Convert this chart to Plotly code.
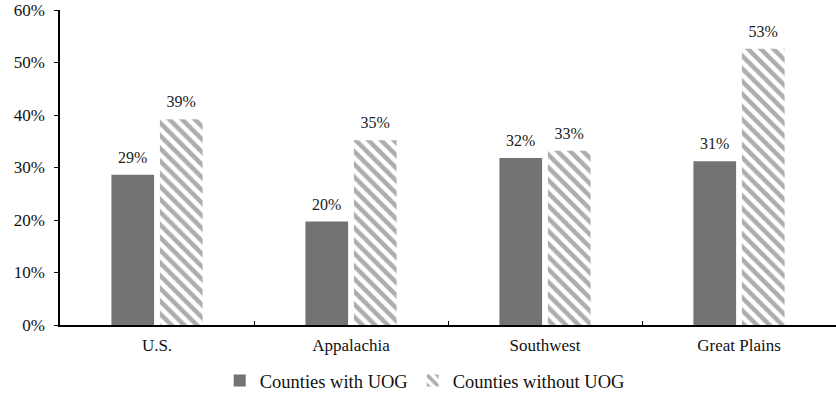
import plotly.graph_objects as go

categories = ["U.S.", "Appalachia", "Southwest", "Great Plains"]
with_uog = [0.286, 0.197, 0.318, 0.312]
without_uog = [0.392, 0.352, 0.332, 0.526]
series_names = ["Counties with UOG", "Counties without UOG"]
y_ticks = [0, 0.1, 0.2, 0.3, 0.4, 0.5, 0.6]

font_family = "Liberation Serif, Times New Roman, serif"
pad = "<span style='font-size:42px'> </span>"
label_tpl = pad + "%{y:.0%}" + pad

fig = go.Figure()
fig.add_trace(go.Bar(
    x=categories, y=with_uog, name=series_names[0],
    marker=dict(color="#737373", line=dict(width=0)),
    texttemplate=label_tpl, textposition="outside", constraintext="none",
    textfont=dict(family=font_family, size=16, color="#222"),
    cliponaxis=False,
))
fig.add_trace(go.Bar(
    x=categories, y=without_uog, name=series_names[1],
    marker=dict(color="white", line=dict(width=0),
                pattern=dict(shape="\\", fgcolor="#5c5c5c", bgcolor="white",
                             size=9, solidity=0.5)),
    texttemplate=label_tpl, textposition="outside", constraintext="none",
    textfont=dict(family=font_family, size=16, color="#222"),
    cliponaxis=False,
))

fig.update_layout(
    width=836, height=397,
    margin=dict(l=60, r=0, t=10, b=72, autoexpand=False),
    paper_bgcolor="white", plot_bgcolor="white",
    barmode="group", bargap=0.5, bargroupgap=0.12,
    font=dict(family=font_family, size=17, color="#111"),
    showlegend=True,
    legend=dict(orientation="h", x=0.47, xanchor="center", y=-0.178, yanchor="middle",
                font=dict(family=font_family, size=18.5, color="#111"),
                itemwidth=30, traceorder="normal"),
    xaxis=dict(showline=True, linecolor="black", linewidth=1.5,
               ticks="inside", ticklen=4, tickcolor="black", tickson="boundaries",
               showgrid=False, tickfont=dict(size=17, color="#111"),
               ticklabelstandoff=4),
    yaxis=dict(range=[0, 0.6], tickvals=y_ticks, tickformat=".0%",
               showline=True, linecolor="black", linewidth=1.5,
               ticks="outside", ticklen=4, tickcolor="black",
               showgrid=False, zeroline=False, tickfont=dict(size=17, color="#111"),
               ticklabelstandoff=6),
)

fig.write_html("out.html")
